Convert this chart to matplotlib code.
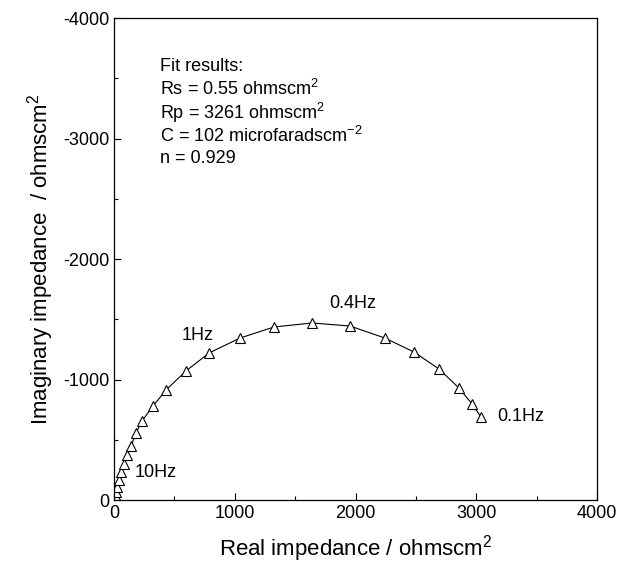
import matplotlib.pyplot as plt

plt.rcParams['font.family'] = ['Liberation Sans', 'DejaVu Sans']
plt.rcParams['mathtext.fontset'] = 'custom'
plt.rcParams['mathtext.rm'] = 'Liberation Sans'
plt.rcParams['mathtext.it'] = 'Liberation Sans'
plt.rcParams['axes.unicode_minus'] = False

# measured impedance, high frequency -> 0.1 Hz
z_real = [2, 4, 7, 11, 17, 25, 41, 58, 83, 108, 141, 182, 232, 323, 431,
          596, 787, 1043, 1325, 1640, 1954, 2244, 2484, 2692, 2857, 2965, 3039]
z_imag = [-8, -18, -30, -45, -66, -108, -166, -232, -299, -373, -448, -556,
          -656, -780, -913, -1071, -1220, -1344, -1436, -1469, -1444, -1344,
          -1228, -1087, -929, -797, -689]

freq_labels = ['0.1Hz', '0.4Hz', '1Hz', '10Hz']
freq_label_x = [3172, 1781, 563, 174]
freq_label_y = [-689, -1627, -1369, -232]

fit_lines = ['Fit results:',
             'Rs = 0.55 ohmscm$^2$',
             'Rp = 3261 ohmscm$^2$',
             'C = 102 microfaradscm$^{-2}$',
             'n = 0.929']

fig = plt.figure(figsize=(6.21, 5.81), dpi=100)
ax = fig.add_axes([0.1836, 0.1394, 0.7778, 0.8296])

ax.plot(z_real, z_imag, color='black', lw=0.8)
ax.plot(z_real, z_imag, linestyle='none', marker='^', markersize=7,
        markerfacecolor='white', markeredgecolor='black', markeredgewidth=0.8)

for lab, x, y in zip(freq_labels, freq_label_x, freq_label_y):
    ax.text(x, y, lab, fontsize=13, ha='left', va='center')

for i, line in enumerate(fit_lines):
    ax.text(0.095, 0.9 - i * 0.048, line, transform=ax.transAxes,
            fontsize=13, ha='left', va='center')

ax.set_xlim(0, 4000)
ax.set_ylim(0, -4000)
ax.set_xticks([0, 1000, 2000, 3000, 4000])
ax.set_yticks([0, -1000, -2000, -3000, -4000])
ax.set_xticks(range(500, 4000, 1000), minor=True)
ax.set_yticks(range(-500, -4000, -1000), minor=True)
ax.tick_params(which='both', direction='in', labelsize=13, width=0.8)
ax.tick_params(which='major', length=5)
ax.tick_params(which='minor', length=3)

for s in ax.spines.values():
    s.set_linewidth(0.9)

ax.set_xlabel('Real impedance / ohmscm$^2$', fontsize=16, labelpad=8)
ax.set_ylabel('Imaginary impedance  / ohmscm$^2$', fontsize=16, labelpad=5)

fig.savefig('out.png', dpi=100)
